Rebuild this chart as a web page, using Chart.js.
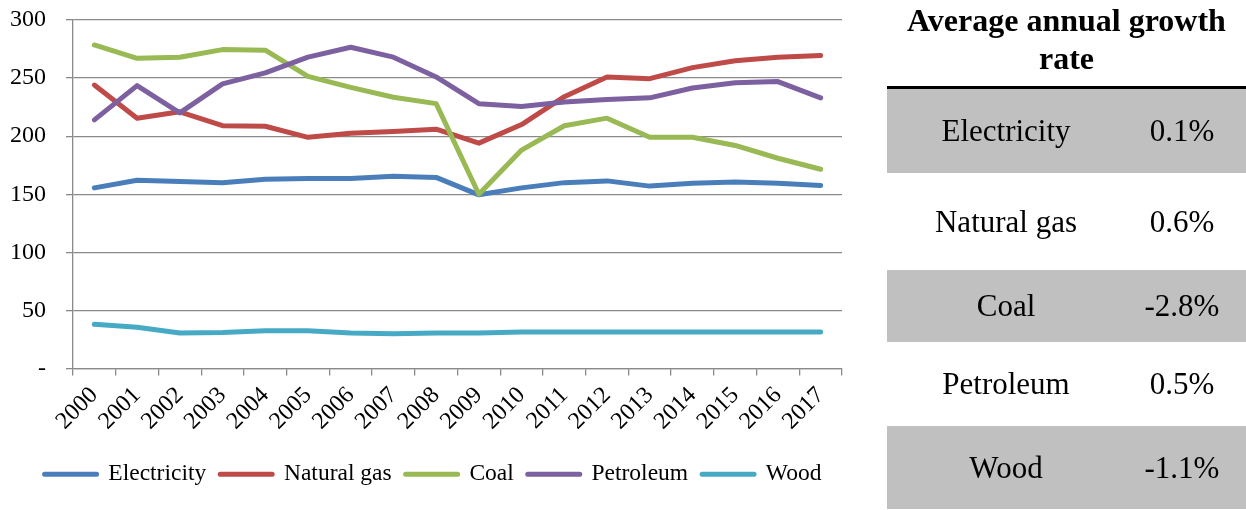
<!DOCTYPE html>
<html>
<head>
<meta charset="utf-8">
<script src="https://cdn.jsdelivr.net/npm/chart.js@4.4.1/dist/chart.umd.min.js"></script>
<style>
  html, body { margin: 0; padding: 0; background: #fff; }
  body { width: 1246px; height: 510px; position: relative; overflow: hidden;
         font-family: "Liberation Serif", "Times New Roman", serif; color: #000; }
  #chartBox { position: absolute; left: 0; top: 0; width: 870px; height: 510px; }
  #rates { position: absolute; left: 887px; top: 0; width: 359px; height: 510px; }
  #rates .title { position: absolute; left: -30px; width: 419px; top: 1px; text-align: center;
                  font-weight: bold; font-size: 32px; line-height: 38px; }
  #rates .rule { position: absolute; left: 0; right: 0; top: 86px; height: 3px; background: #000; }
  #rates .row { position: absolute; left: 0; right: 0; font-size: 31px; }
  #rates .row.shade { background: #c0c0c0; }
  #rates .row span { position: absolute; top: 50%; transform: translate(-50%, -50%); white-space: nowrap; }
</style>
</head>
<body>
<div id="chartBox"><canvas id="energy"></canvas></div>
<div id="rates"></div>
<script>
// Energy use by fuel, 2000-2017
const years = ['2000','2001','2002','2003','2004','2005','2006','2007','2008',
               '2009','2010','2011','2012','2013','2014','2015','2016','2017'];
const electricity = [155.5, 162, 161, 160, 163, 163.5, 163.5, 165.5, 164.5, 149.5, 155.5, 160, 161.5, 157, 159.5, 160.5, 159.5, 157.5];
const naturalGas  = [244, 215.5, 221, 209, 208.5, 199, 202.5, 204, 206, 194, 210, 234, 251, 249.5, 259, 265, 268, 269.5];
const coal        = [278.5, 267, 268, 274.5, 274, 251.5, 242, 233.5, 228, 150, 188, 209, 215.5, 199, 199, 192, 181, 171.5];
const petroleum   = [214, 243.5, 220, 245, 254.5, 268, 276.5, 268, 251, 228, 225.5, 229.5, 231.5, 233, 241.5, 246, 247, 233];
const wood        = [38, 35.5, 30.5, 31, 32.5, 32.5, 30.5, 30, 30.5, 30.5, 31.5, 31.5, 31.5, 31.5, 31.5, 31.5, 31.5, 31.5];

// Average annual growth rate per fuel (side table)
const rateFuels  = ['Electricity', 'Natural gas', 'Coal', 'Petroleum', 'Wood'];
const rateValues = ['0.1%', '0.6%', '-2.8%', '0.5%', '-1.1%'];

const seriesNames  = ['Electricity', 'Natural gas', 'Coal', 'Petroleum', 'Wood'];
const seriesData   = [electricity, naturalGas, coal, petroleum, wood];
const seriesColors = ['#4a7ebb', '#be4b48', '#98b954', '#7d60a0', '#46aac5'];

const yTicks = [0, 50, 100, 150, 200, 250, 300];

const serif = '"Liberation Serif", "Times New Roman", serif';
const gridGray = '#8a8a8a';

// keep the plot area fixed: no extra room reserved for overhanging labels
function noOverhang(s) {
  s.paddingLeft = 0; s.paddingRight = 0; s.paddingTop = 0; s.paddingBottom = 0;
}

// let the value-axis labels use the margin to the left of the axis box
const widenValueAxis = {
  id: 'widenValueAxis',
  afterLayout(chart) { chart.scales.y.left = 0; }
};

new Chart(document.getElementById('energy'), {
  type: 'line',
  data: {
    labels: years,
    datasets: seriesNames.map((name, i) => ({
      label: name,
      data: seriesData[i],
      borderColor: seriesColors[i],
      backgroundColor: seriesColors[i],
      borderWidth: 5,
      borderCapStyle: 'round',
      borderJoinStyle: 'round',
      pointRadius: 0,
      tension: 0,
      fill: false,
      order: seriesNames.length - 1 - i   // later series drawn on top
    }))
  },
  plugins: [widenValueAxis],
  options: {
    responsive: true,
    maintainAspectRatio: false,
    animation: false,
    layout: { padding: { top: 20, left: 24, right: 28, bottom: 14 } },
    plugins: {
      tooltip: { enabled: false },
      legend: {
        position: 'bottom',
        labels: {
          sort: (a, b) => a.datasetIndex - b.datasetIndex,
          boxWidth: 52,
          boxHeight: 0,
          padding: 14,
          color: '#000',
          font: { family: serif, size: 23.5 }
        }
      }
    },
    scales: {
      x: {
        offset: true,
        grid: { offset: true, drawOnChartArea: false, drawTicks: true, tickLength: 7, color: gridGray, lineWidth: 1.3 },
        border: { color: gridGray, width: 1.3 },
        ticks: {
          autoSkip: false, minRotation: 45, maxRotation: 45, padding: 6,
          color: '#000', font: { family: serif, size: 24 }
        },
        afterFit: s => { s.height = 80; noOverhang(s); }
      },
      y: {
        min: 0, max: 300,
        afterBuildTicks: s => { s.ticks = yTicks.map(v => ({ value: v })); },
        grid: { color: gridGray, lineWidth: 1.3, tickLength: 7 },
        border: { color: gridGray, width: 1.3 },
        ticks: {
          padding: 20, color: '#000', font: { family: serif, size: 24 },
          callback: v => (v === 0 ? '-' : String(v))
        },
        afterFit: s => { s.width = 49; noOverhang(s); }
      }
    }
  }
});

// Side table: title, rule and alternating shaded rows
const rowBands = [[89, 173], [173, 270], [270, 342], [342, 426], [426, 509]];
const rates = document.getElementById('rates');
rates.innerHTML = '<div class="title">Average annual growth<br>rate</div><div class="rule"></div>';
rateFuels.forEach((fuel, i) => {
  const row = document.createElement('div');
  row.className = 'row' + (i % 2 === 0 ? ' shade' : '');
  row.style.top = rowBands[i][0] + 'px';
  row.style.height = (rowBands[i][1] - rowBands[i][0]) + 'px';
  row.innerHTML = '<span style="left:119px">' + fuel + '</span><span style="left:295px">' + rateValues[i] + '</span>';
  rates.appendChild(row);
});
</script>
</body>
</html>
